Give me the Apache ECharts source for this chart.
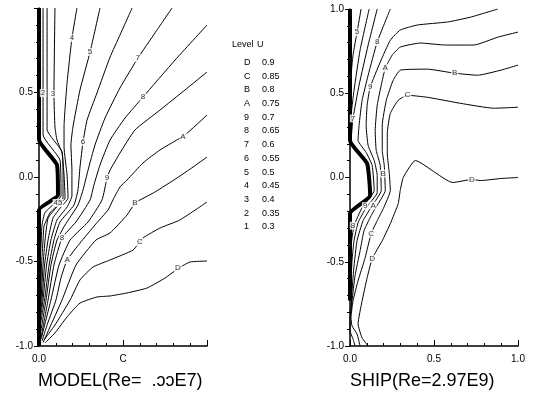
<!DOCTYPE html>
<html>
<head>
<meta charset="utf-8">
<script src="https://cdn.jsdelivr.net/npm/echarts@6/dist/echarts.min.js"></script>
<style>
  html, body { margin: 0; padding: 0; background: #fff; }
  #chart { width: 533px; height: 395px; }
</style>
</head>
<body>
<div id="chart"></div>
<script>
// level table
const levelNames = ["D", "C", "B", "A", "9", "8", "7", "6", "5", "4", "3", "2", "1"];
const levelValues = ["0.9", "0.85", "0.8", "0.75", "0.7", "0.65", "0.6", "0.55", "0.5", "0.45", "0.4", "0.35", "0.3"];

// titles / tick text
const modelTitle = "MODEL(Re=  .ɔɔE7)";
const shipTitle = "SHIP(Re=2.97E9)";

// MODEL panel: body outline and contour lines, [x, y]
const modelBody = [[0, 1.0], [0, 0.22], [0.107, 0.071], [0.113, -0.107], [0, -0.195], [0, -1.0]];
const model1 = [[0.024, 1.0], [0.024, 0.25], [0.125, 0.10], [0.131, -0.11], [0.036, -0.21], [0.018, -0.284], [0.012, -0.402], [0.003, -0.55]];
const model2 = [[0.048, 1.0], [0.048, 0.5], [0.048, 0.28], [0.137, 0.15], [0.143, 0.01], [0.143, -0.125], [0.065, -0.213], [0.03, -0.29], [0.024, -0.373], [0.015, -0.521], [0.009, -0.728], [0, -0.8]];
const model3 = [[0.095, 1.0], [0.089, 0.49], [0.095, 0.296], [0.107, 0.219], [0.137, 0.142], [0.149, 0.012], [0.155, -0.124], [0.101, -0.183], [0.054, -0.243], [0.036, -0.373], [0.024, -0.521], [0.012, -0.728], [0, -0.82]];
const model4 = [[0.226, 1.0], [0.196, 0.822], [0.167, 0.556], [0.149, 0.296], [0.149, 0.178], [0.167, 0.012], [0.173, -0.124], [0.131, -0.178], [0.083, -0.243], [0.054, -0.373], [0.033, -0.521], [0.018, -0.728], [0, -0.86]];
const model5 = [[0.363, 1.0], [0.304, 0.74], [0.244, 0.515], [0.202, 0.296], [0.19, 0.189], [0.196, 0.041], [0.196, -0.112], [0.167, -0.178], [0.107, -0.254], [0.071, -0.373], [0.045, -0.521], [0.024, -0.728], [0, -0.89]];
const model6 = [[0.554, 1.0], [0.482, 0.84], [0.423, 0.71], [0.345, 0.497], [0.286, 0.337], [0.262, 0.207], [0.244, 0.059], [0.232, -0.077], [0.208, -0.166], [0.125, -0.266], [0.089, -0.373], [0.06, -0.521], [0.033, -0.728], [0, -0.92]];
const model7 = [[0.792, 1.0], [0.69, 0.852], [0.589, 0.704], [0.482, 0.527], [0.393, 0.349], [0.333, 0.189], [0.292, 0.041], [0.262, -0.077], [0.232, -0.166], [0.155, -0.284], [0.107, -0.373], [0.071, -0.521], [0.042, -0.728], [0.006, -0.94]];
const model8 = [[1.0, 0.899], [0.81, 0.692], [0.619, 0.473], [0.512, 0.349], [0.423, 0.219], [0.363, 0.071], [0.327, -0.047], [0.304, -0.136], [0.22, -0.266], [0.137, -0.361], [0.089, -0.521], [0.054, -0.728], [0.012, -0.95]];
const model9 = [[1.0, 0.621], [0.869, 0.515], [0.72, 0.396], [0.571, 0.278], [0.482, 0.142], [0.423, 0.041], [0.405, -0.006], [0.375, -0.136], [0.292, -0.266], [0.185, -0.373], [0.119, -0.521], [0.071, -0.728], [0.012, -0.96]];
const modelA = [[1.0, 0.367], [0.869, 0.249], [0.72, 0.16], [0.619, 0.083], [0.524, -0.018], [0.482, -0.059], [0.44, -0.136], [0.411, -0.195], [0.333, -0.284], [0.244, -0.391], [0.167, -0.491], [0.13, -0.6], [0.101, -0.728], [0.05, -0.87], [0.018, -0.97]];
const modelB = [[1.0, 0.118], [0.917, 0.059], [0.821, -0.006], [0.69, -0.089], [0.601, -0.136], [0.571, -0.154], [0.524, -0.225], [0.423, -0.331], [0.339, -0.373], [0.22, -0.521], [0.137, -0.728], [0.06, -0.9], [0.024, -0.98]];
const modelC = [[1.0, -0.148], [0.839, -0.254], [0.72, -0.302], [0.619, -0.361], [0.56, -0.432], [0.423, -0.491], [0.321, -0.533], [0.244, -0.609], [0.185, -0.728], [0.095, -0.876], [0.03, -0.964]];
const modelD = [[1.0, -0.497], [0.899, -0.503], [0.833, -0.538], [0.75, -0.598], [0.643, -0.657], [0.524, -0.686], [0.423, -0.704], [0.345, -0.71], [0.244, -0.746], [0.167, -0.828], [0.095, -0.923], [0.036, -0.982]];
const modelLabels = [
  [0.024, 0.497, "2"], [0.083, 0.491, "3"], [0.196, 0.822, "4"], [0.304, 0.74, "5"],
  [0.262, 0.207, "6"], [0.589, 0.704, "7"], [0.619, 0.473, "8"], [0.405, -0.006, "9"],
  [0.857, 0.237, "A"], [0.571, -0.154, "B"], [0.601, -0.385, "C"], [0.827, -0.538, "D"],
  [0.113, -0.154, "45"], [0.137, -0.361, "8"], [0.167, -0.491, "A"]
];

// SHIP panel
const shipBody = [[0, 1.0], [0, 0.22], [0.102, 0.083], [0.12, -0.107], [0, -0.214], [0, -0.73]];
const ship5 = [[0.066, 1.0], [0.042, 0.863], [0.018, 0.726], [0.006, 0.607]];
const ship6 = [[0.114, 1.0], [0.06, 0.756], [0.024, 0.518], [0.006, 0.369]];
const ship7 = [[0.162, 1.0], [0.108, 0.786], [0.054, 0.548], [0.018, 0.351], [0.006, 0.22]];
const ship8 = [[0.24, 1.0], [0.162, 0.804], [0.108, 0.607], [0.072, 0.458], [0.054, 0.31], [0.048, 0.22], [0.096, 0.149], [0.132, 0.071], [0.144, -0.077], [0.072, -0.179], [0.024, -0.286], [0.006, -0.405], [0, -0.494]];
const ship9 = [[0.88, 1.0], [0.719, 0.952], [0.581, 0.923], [0.401, 0.905], [0.299, 0.875], [0.24, 0.815], [0.18, 0.685], [0.12, 0.536], [0.102, 0.429], [0.096, 0.31], [0.108, 0.19], [0.144, 0.101], [0.162, 0.012], [0.162, -0.089], [0.096, -0.179], [0.048, -0.268], [0.024, -0.375], [0.012, -0.494], [0.006, -0.613]];
const shipA = [[1.0, 0.863], [0.88, 0.833], [0.737, 0.786], [0.569, 0.786], [0.419, 0.798], [0.299, 0.774], [0.251, 0.726], [0.21, 0.649], [0.186, 0.548], [0.162, 0.429], [0.15, 0.28], [0.156, 0.161], [0.18, 0.071], [0.186, -0.077], [0.132, -0.167], [0.078, -0.256], [0.042, -0.375], [0.024, -0.524], [0.012, -0.673], [0.006, -0.792]];
const shipB = [[1.0, 0.667], [0.898, 0.637], [0.76, 0.607], [0.623, 0.619], [0.461, 0.643], [0.299, 0.637], [0.257, 0.577], [0.216, 0.458], [0.192, 0.31], [0.192, 0.161], [0.204, 0.071], [0.21, -0.077], [0.168, -0.155], [0.126, -0.226], [0.084, -0.315], [0.06, -0.435], [0.03, -0.583], [0.012, -0.732], [0, -0.839], [0, -0.911], [0.018, -0.958], [0.03, -1.0]];
const shipC = [[1.0, 0.417], [0.856, 0.411], [0.659, 0.44], [0.461, 0.476], [0.341, 0.488], [0.287, 0.458], [0.24, 0.381], [0.222, 0.262], [0.222, 0.143], [0.234, 0.024], [0.24, -0.077], [0.198, -0.185], [0.162, -0.256], [0.126, -0.333], [0.09, -0.476], [0.048, -0.613], [0.018, -0.732], [0.006, -0.833], [0.012, -0.881], [0.042, -0.929], [0.06, -1.0]];
const shipD = [[1.0, 0.0], [0.898, -0.006], [0.778, -0.018], [0.725, -0.012], [0.611, -0.03], [0.389, 0.101], [0.317, 0.0], [0.299, -0.077], [0.287, -0.155], [0.24, -0.274], [0.192, -0.375], [0.132, -0.482], [0.102, -0.595], [0.072, -0.732], [0.048, -0.869], [0.072, -0.952], [0.108, -1.0]];
const shipLabels = [
  [0.042, 0.863, "5"], [0.162, 0.804, "8"], [0.21, 0.649, "A"], [0.12, 0.536, "9"],
  [0.623, 0.619, "B"], [0.341, 0.488, "C"], [0.018, 0.351, "7"], [0.198, 0.024, "B"],
  [0.725, -0.012, "D"], [0.09, -0.17, "9"], [0.138, -0.167, "A"], [0.126, -0.333, "C"],
  [0.132, -0.482, "D"], [0.018, -0.286, "8"]
];

const FONT = "'Liberation Sans', Arial, Helvetica, sans-serif";

function contour(data, idx, width) {
  return {
    type: "line",
    xAxisIndex: idx,
    yAxisIndex: idx,
    data: data,
    symbol: "none",
    smooth: 0.15,
    silent: true,
    lineStyle: { color: "#000", width: width || 1 },
    z: 2,
  };
}

function labelSeries(labels, idx) {
  return {
    type: "scatter",
    xAxisIndex: idx,
    yAxisIndex: idx,
    symbolSize: 1,
    itemStyle: { color: "rgba(0,0,0,0)" },
    silent: true,
    z: 5,
    data: labels.map((l) => ({ value: [l[0], l[1]], name: l[2] })),
    label: {
      show: true,
      position: "inside",
      formatter: "{b}",
      fontSize: 8,
      fontFamily: FONT,
      color: "#000",
      backgroundColor: "#fff",
      padding: [0, 1],
    },
  };
}

function xAxis(idx, fmt) {
  return {
    type: "value",
    gridIndex: idx,
    min: 0,
    max: 1,
    interval: 0.5,
    splitLine: { show: false },
    axisLine: { onZero: false, lineStyle: { color: "#000", width: 1.5 } },
    axisTick: { inside: true, length: 6, lineStyle: { color: "#000" } },
    minorTick: { show: true, splitNumber: 5, length: 3, lineStyle: { color: "#000" } },
    axisLabel: { color: "#000", fontSize: 10, fontFamily: FONT, margin: 8, formatter: fmt },
  };
}

function yAxis(idx, fmt) {
  return {
    type: "value",
    gridIndex: idx,
    min: -1,
    max: 1,
    interval: 0.5,
    splitLine: { show: false },
    axisLine: { onZero: false, lineStyle: { color: "#000", width: 1.5 } },
    axisTick: { length: 5, lineStyle: { color: "#000" } },
    minorTick: { show: true, splitNumber: 5, length: 3, lineStyle: { color: "#000" } },
    axisLabel: { color: "#000", fontSize: 10, fontFamily: FONT, margin: 6, formatter: fmt },
  };
}

// legend table as text
const tableGraphics = [
  { type: "text", left: 232, top: 40, style: { text: "Level", font: "9px " + FONT, fill: "#000" } },
  { type: "text", left: 257, top: 40, style: { text: "U", font: "9px " + FONT, fill: "#000" } },
];
levelNames.forEach((n, i) => {
  const y = 58 + i * 13.7;
  tableGraphics.push({ type: "text", left: 244, top: y, style: { text: n, font: "9px " + FONT, fill: "#000" } });
  tableGraphics.push({ type: "text", left: 262, top: y, style: { text: levelValues[i], font: "9px " + FONT, fill: "#000" } });
});

const chart = echarts.init(document.getElementById("chart"), null, { renderer: "canvas" });
chart.setOption({
  animation: false,
  backgroundColor: "#fff",
  grid: [
    { left: 39, top: 8, width: 168, height: 338 },
    { left: 350, top: 9, width: 168, height: 337 },
  ],
  xAxis: [
    xAxis(0, (v) => (v === 0 ? "0.0" : v === 0.5 ? "C" : "")),
    xAxis(1, (v) => v.toFixed(1)),
  ],
  yAxis: [
    yAxis(0, (v) => (v >= 1 ? "" : v.toFixed(1))),
    yAxis(1, (v) => v.toFixed(1)),
  ],
  graphic: tableGraphics.concat([
    { type: "text", left: 38, top: 372, style: { text: modelTitle, font: "18px " + FONT, fill: "#000" } },
    { type: "text", left: 350, top: 372, style: { text: shipTitle, font: "18px " + FONT, fill: "#000" } },
  ]),
  series: [
    contour(modelBody, 0, 4),
    contour(model1, 0), contour(model2, 0), contour(model3, 0), contour(model4, 0),
    contour(model5, 0), contour(model6, 0), contour(model7, 0), contour(model8, 0),
    contour(model9, 0), contour(modelA, 0), contour(modelB, 0), contour(modelC, 0),
    contour(modelD, 0),
    labelSeries(modelLabels, 0),
    contour(shipBody, 1, 4),
    contour(ship5, 1), contour(ship6, 1), contour(ship7, 1), contour(ship8, 1),
    contour(ship9, 1), contour(shipA, 1), contour(shipB, 1), contour(shipC, 1),
    contour(shipD, 1),
    labelSeries(shipLabels, 1),
  ],
});
</script>
</body>
</html>
